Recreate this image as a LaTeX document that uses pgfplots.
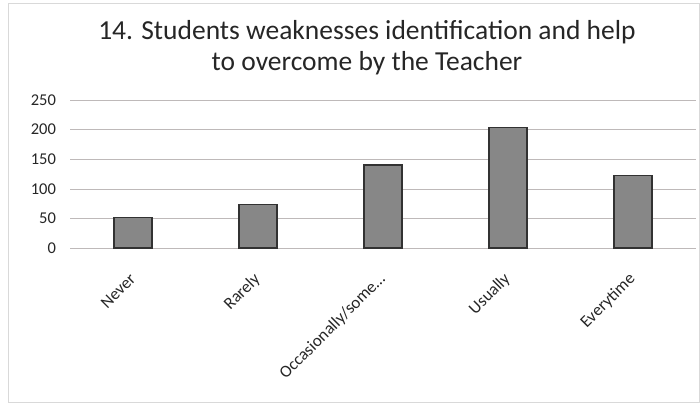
\documentclass[border=0pt]{standalone}
\usepackage{fontspec}
\setmainfont{Carlito}
\usepackage{pgfplots}
\pgfplotsset{compat=1.18}
\usetikzlibrary{calc}
\definecolor{barfill}{RGB}{135,135,135}
\definecolor{baredge}{RGB}{50,50,50}
\definecolor{gridc}{RGB}{190,185,185}

\begin{document}
\begin{tikzpicture}[x=1pt,y=1pt]
\begin{axis}[
  name=ax,
  scale only axis, width=625pt, height=148pt,
  ybar, bar width=38pt,
  ymin=0, ymax=250,
  xmin=-0.5, xmax=4.5,
  ytick={0,50,100,150,200,250},
  xtick={0,1,2,3,4},
  xticklabels={Never,Rarely,{Occasionally/some\dots},Usually,Everytime},
  axis line style={draw=none},
  tick style={draw=none},
  ymajorgrids=true,
  grid style={draw=gridc, thin},
  /pgf/number format/assume math mode=true,
  yticklabel style={font=\fontsize{16.5}{19}\selectfont, text=black!85, xshift=-11pt},
  xticklabel style={font=\fontsize{17}{20}\selectfont, text=black!85,
    rotate=45, anchor=east, xshift=-14pt, yshift=-17pt},
]
\addplot[fill=barfill, draw=baredge, line width=1.3pt] coordinates {
  (0,51) (1,73) (2,140) (3,203) (4,122)
};
\coordinate (O) at (axis cs:-0.5,0);
\end{axis}
\pgfresetboundingbox
% canvas 700 x 405, axis lower-left at (70.5,157)
\begin{scope}[shift={($(O)+(-70.5,-157)$)}]
\useasboundingbox (0,0) rectangle (700,405);
\draw[gray!30] (8,3) rectangle (699,402);
\node[font=\fontsize{27.5}{30}\selectfont, text=black!85, anchor=base] at (367,365)
  {14. Students weaknesses identification and help};
\node[font=\fontsize{27.5}{30}\selectfont, text=black!85, anchor=base] at (367,335)
  {to overcome by the Teacher};
\end{scope}
\end{tikzpicture}
\end{document}
